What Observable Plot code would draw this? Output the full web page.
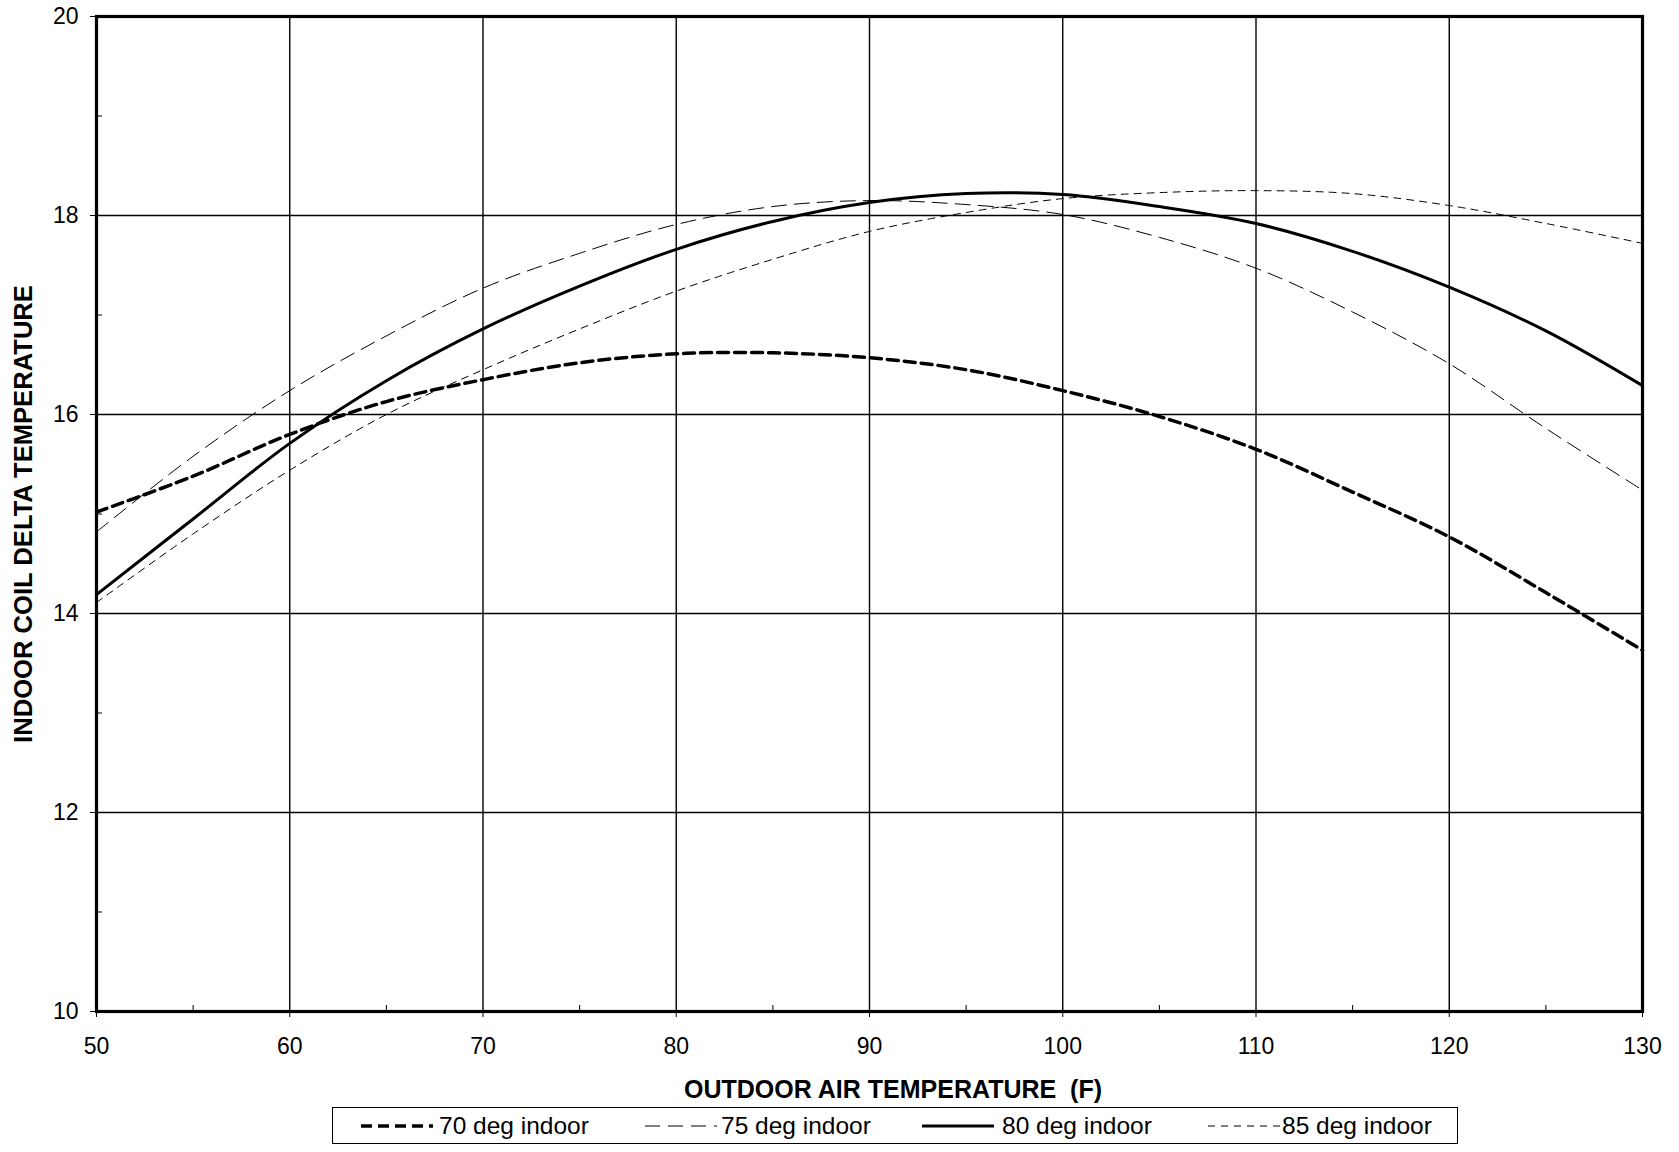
<!DOCTYPE html>
<html>
<head>
<meta charset="utf-8">
<script src="https://cdn.jsdelivr.net/npm/d3@7"></script>
<script src="https://cdn.jsdelivr.net/npm/@observablehq/plot@0.6"></script>
<style>
  html, body { margin: 0; padding: 0; background: #fff; }
  body { width: 1679px; height: 1152px; position: relative; font-family: "Liberation Sans", Arial, sans-serif; }
  #chart svg { overflow: visible; }
  #chart svg [aria-label="y-axis label"] text { font-weight: bold; font-size: 25.6px; }
  #xtitle { position: absolute; left: 893px; top: 1074px; transform: translateX(-50%); line-height: 30px; font-size: 25px; font-weight: bold; white-space: pre; color: #000; }
  #legend { position: absolute; left: 332px; top: 1107px; width: 1126px; height: 37px; border: 1.5px solid #000; box-sizing: border-box; }
  #legend .item { position: absolute; top: 0; height: 35px; display: flex; align-items: center; font-size: 24.5px; color: #000; white-space: nowrap; }
  #legend svg { display: block; }
</style>
</head>
<body>
<div id="chart"></div>
<div id="xtitle"></div>
<div id="legend"></div>
<script>
// Outdoor air temperature (F)
const outdoorTemps = [50, 55, 60, 65, 70, 75, 80, 85, 90, 95, 100, 105, 110, 115, 120, 125, 130];
// Indoor coil delta temperature per indoor temperature
const indoor70 = [15.02, 15.38, 15.80, 16.13, 16.35, 16.52, 16.61, 16.62, 16.57, 16.45, 16.24, 15.98, 15.65, 15.22, 14.77, 14.21, 13.63];
const indoor75 = [14.82, 15.58, 16.24, 16.79, 17.27, 17.62, 17.91, 18.09, 18.15, 18.11, 18.01, 17.78, 17.47, 17.03, 16.51, 15.86, 15.24];
const indoor80 = [14.19, 14.95, 15.71, 16.34, 16.86, 17.29, 17.66, 17.94, 18.13, 18.22, 18.21, 18.09, 17.92, 17.64, 17.28, 16.84, 16.29];
const indoor85 = [14.11, 14.80, 15.44, 16.00, 16.45, 16.86, 17.24, 17.56, 17.84, 18.03, 18.17, 18.23, 18.25, 18.22, 18.10, 17.92, 17.72];
const seriesNames = ["70 deg indoor", "75 deg indoor", "80 deg indoor", "85 deg indoor"];
const xTitle = "OUTDOOR AIR TEMPERATURE  (F)";
const yTitle = "INDOOR COIL DELTA TEMPERATURE";

const xTicks = [50, 60, 70, 80, 90, 100, 110, 120, 130];
const xMinor = [55, 65, 75, 85, 95, 105, 115, 125];
const yTicks = [10, 12, 14, 16, 18, 20];
const yMinor = [11, 13, 15, 17, 19];

const styles = [
  {strokeWidth: 3.5, strokeDasharray: "11,6"},
  {strokeWidth: 1, strokeDasharray: "15,8"},
  {strokeWidth: 3, strokeDasharray: null},
  {strokeWidth: 1, strokeDasharray: "7,6"}
];
const seriesValues = [indoor70, indoor75, indoor80, indoor85];
const tables = seriesValues.map(vals => outdoorTemps.map((x, i) => ({x, y: vals[i]})));

const plot = Plot.plot({
  width: 1679,
  height: 1104,
  marginLeft: 96,
  marginRight: 37,
  marginTop: 16,
  marginBottom: 93,
  style: {fontFamily: "Liberation Sans, Arial, sans-serif", fontSize: "23px", color: "#000", background: "#fff", overflow: "visible"},
  x: {domain: [50, 130]},
  y: {domain: [10, 20]},
  marks: [
    Plot.gridX(xTicks, {stroke: "#000", strokeOpacity: 1, strokeWidth: 1.4}),
    Plot.gridY(yTicks, {stroke: "#000", strokeOpacity: 1, strokeWidth: 1.4}),
    Plot.axisX(xTicks, {tickSize: 6, tickPadding: 20, fontSize: 23, tickFormat: "d", label: null}),
    Plot.axisX(xMinor, {tickSize: -6, text: null, label: null}),
    Plot.axisY(yTicks, {tickSize: 6, tickPadding: 12, fontSize: 23, tickFormat: "d", label: yTitle, labelAnchor: "center", labelArrow: "none", labelOffset: 83}),
    Plot.axisY(yMinor, {tickSize: -6, text: null, label: null}),
    ...tables.map((t, i) => Plot.line(t, {x: "x", y: "y", stroke: "#000", curve: "catmull-rom", ...styles[i]})),
    Plot.frame({stroke: "#000", strokeWidth: 3.2})
  ]
});
document.getElementById("chart").appendChild(plot);
document.getElementById("xtitle").textContent = xTitle;

// Legend
const legend = document.getElementById("legend");
const legendPos = [
  {sample: 26, text: 106},
  {sample: 310, text: 388},
  {sample: 587, text: 669},
  {sample: 873, text: 949}
];
seriesNames.forEach((name, i) => {
  const s = document.createElementNS("http://www.w3.org/2000/svg", "svg");
  s.setAttribute("width", 76); s.setAttribute("height", 10);
  const l = document.createElementNS("http://www.w3.org/2000/svg", "line");
  l.setAttribute("x1", 2); l.setAttribute("x2", 74); l.setAttribute("y1", 5); l.setAttribute("y2", 5);
  l.setAttribute("stroke", "#000");
  l.setAttribute("stroke-width", styles[i].strokeWidth);
  if (styles[i].strokeDasharray) l.setAttribute("stroke-dasharray", styles[i].strokeDasharray);
  s.appendChild(l);
  const a = document.createElement("div");
  a.className = "item"; a.style.left = legendPos[i].sample + "px";
  a.appendChild(s);
  legend.appendChild(a);
  const b = document.createElement("div");
  b.className = "item"; b.style.left = legendPos[i].text + "px";
  b.textContent = name;
  legend.appendChild(b);
});
</script>
</body>
</html>
